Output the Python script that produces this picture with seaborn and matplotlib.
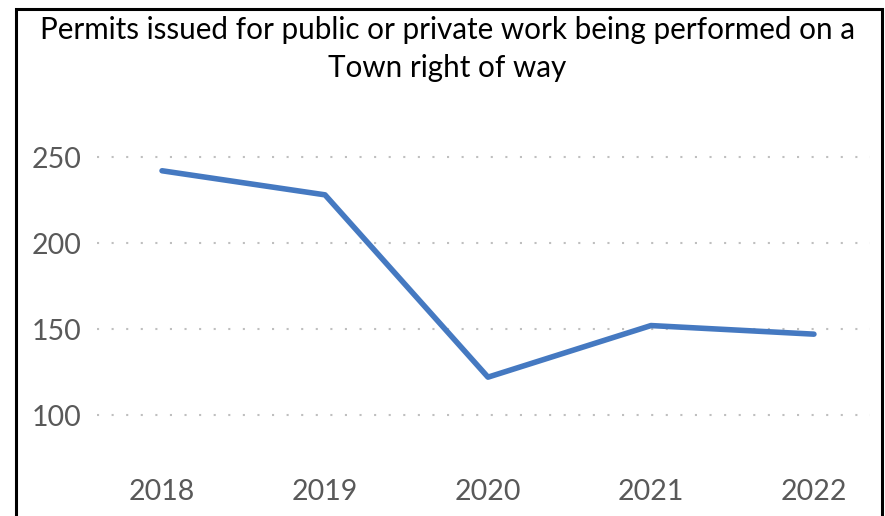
import matplotlib
matplotlib.use('Agg')
import matplotlib.pyplot as plt
import seaborn as sns
import pandas as pd
from matplotlib.patches import Rectangle

# chart data
years = ['2018', '2019', '2020', '2021', '2022']
permits = [242, 228, 122, 152, 147]
y_ticks = [100, 150, 200, 250]
title = 'Permits issued for public or private work being performed on a\nTown right of way'

df = pd.DataFrame({'year': years, 'permits': permits})

sns.set_style('white')
plt.rcParams['font.family'] = ['Lato', 'DejaVu Sans']

W, H = 885, 516
fig = plt.figure(figsize=(W / 100, H / 100), dpi=100)
ax = fig.add_axes([97 / W, 1 - 449.4 / H, (870 - 97) / W, (449.4 - 139.8) / H])

sns.lineplot(data=df, x='year', y='permits', ax=ax, color='#4579C1',
             linewidth=4, solid_capstyle='round', sort=False)

ax.set_xlim(-0.399, 4.344)
ax.set_ylim(80, 260)
ax.set_yticks(y_ticks)
ax.yaxis.grid(True, color='#BFBFBF', linestyle=(0, (1, 6)), linewidth=1.5)
ax.xaxis.grid(False)
for s in ax.spines.values():
    s.set_visible(False)
ax.tick_params(axis='both', length=0, labelsize=20.5, labelcolor='#595959')
ax.tick_params(axis='y', pad=11)
ax.tick_params(axis='x', pad=21)
ax.set_xlabel('')
ax.set_ylabel('')

fig.text(447 / W, 1 - 49 / H, title, ha='center', va='center', fontsize=21.3,
         color='black', linespacing=1.45)

# outer chart border
fig.patches.append(Rectangle((16 / W, -0.05), (882 - 16) / W, (1 - 8.5 / H) + 0.05,
                             transform=fig.transFigure, fill=False,
                             edgecolor='black', linewidth=2.2))

fig.savefig('out.png', dpi=100)
